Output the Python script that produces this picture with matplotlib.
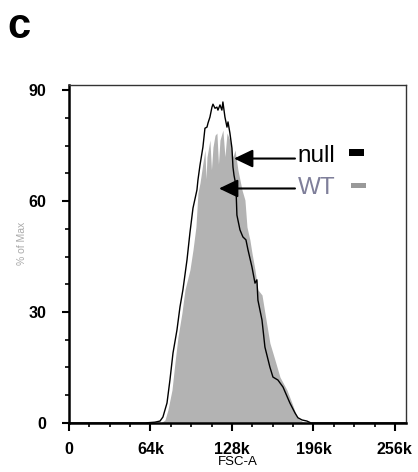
import numpy as np
import matplotlib
matplotlib.use("Agg")
import matplotlib.pyplot as plt
from matplotlib.patches import Rectangle
from matplotlib.ticker import MultipleLocator

plt.rcParams['font.family'] = ['Liberation Sans', 'DejaVu Sans']

###### DATA (FSC-A in k, % of max) ##########
null_x = [0, 60, 67.5, 71.5, 73.8, 77.0, 79.3, 81.7, 84.8, 87.2, 89.5, 92.7, 95.0, 97.4,
          100.5, 101.3, 102.9, 105.2, 106.8, 108.4, 109.2, 110.7, 112.3, 113.1, 114.7,
          116.2, 117.0, 118.6, 120.1, 120.9, 122.5, 124.1, 124.9, 126.4, 128.0, 128.8,
          129.6, 131.1, 131.9, 134.3, 136.6, 139.0, 140.6, 143.7, 146.1, 147.6, 148.4,
          151.6, 153.9, 157.8, 160.2, 164.1, 168.1, 173.5, 177.5, 179.8, 183.0, 186.9,
          190, 264]
null_y = [0, 0, 0.2, 0.5, 1.6, 5.4, 11.6, 18.9, 25.1, 31.4, 36.0, 44.1, 51.4, 58.1,
          63.0, 65.7, 69.7, 74.6, 79.7, 80.0, 81.1, 82.7, 85.4, 86.2, 85.1,
          85.4, 84.6, 86.0, 84.6, 86.8, 82.7, 80.0, 81.4, 78.4, 74.3, 69.2,
          67.0, 64.3, 56.2, 52.2, 50.3, 49.5, 46.8, 42.2, 37.8, 38.7, 33.2,
          27.8, 20.5, 15.1, 12.4, 11.6, 9.7, 5.4, 2.7, 1.4, 0.8, 0.5,
          0, 0]

wt_x = [0, 72, 75.4, 77.7, 80.9, 83.2, 85.6, 88.7, 91.1, 95.0, 97.4, 99.7, 101.3, 102.9,
        105.2, 106.8, 107.6, 108.4, 110.7, 111.9, 113.1, 114.7, 116.2, 117.4, 118.6,
        120.9, 122.5, 124.1, 126.4, 128.8, 130.4, 132.7, 135.9, 138.2, 139.8, 142.1,
        143.7, 146.1, 148.4, 151.6, 153.9, 157.8, 161.8, 165.7, 171.2, 175.1, 179.1,
        181.4, 183.8, 187, 264]
wt_y = [0, 0, 0.8, 3.5, 8.9, 16.2, 23.2, 29.7, 36.0, 41.4, 46.8, 53.0, 62.2, 64.9,
        70.3, 73.8, 66.0, 71.9, 76.5, 68.5, 74.6, 77.8, 78.4, 70.0, 76.5,
        79.2, 72.0, 78.4, 76.5, 71.9, 73.8, 68.4, 63.0, 60.3, 53.0, 49.5,
        46.0, 41.4, 36.0, 34.6, 29.7, 21.6, 17.0, 12.4, 8.9, 5.4, 1.6,
        0.8, 0.3, 0, 0]

x_ticks = [0, 64, 128, 192, 256]
x_labels = ['0', '64k', '128k', '196k', '256k']
y_ticks = [0, 30, 60, 90]
##############################################

fig = plt.figure(figsize=(4.18, 4.72), dpi=100)
ax = fig.add_axes([0.165, 0.104, 0.806, 0.716])

ax.fill_between(wt_x, wt_y, 0, color='#b3b3b3', lw=0, zorder=1)
ax.plot(null_x, null_y, color='black', lw=1.0, zorder=2)

ax.set_xlim(0, 264.6)
ax.set_ylim(0, 91.4)

ax.set_xticks(x_ticks)
ax.set_xticklabels(x_labels, fontsize=11.5, fontweight='bold')
ax.set_yticks(y_ticks)
ax.set_yticklabels([str(v) for v in y_ticks], fontsize=11.5, fontweight='bold')
ax.xaxis.set_minor_locator(MultipleLocator(16))
ax.yaxis.set_minor_locator(MultipleLocator(7.5))
ax.tick_params(axis='x', which='major', length=6, width=1.5, pad=8)
ax.tick_params(axis='x', which='minor', length=3, width=1.2)
ax.tick_params(axis='y', which='major', length=5, width=1.5, pad=11)
ax.tick_params(axis='y', which='minor', length=3, width=1.2)

for s in ['left', 'bottom']:
    ax.spines[s].set_linewidth(1.8)
for s in ['top', 'right']:
    ax.spines[s].set_linewidth(1.0)
    ax.spines[s].set_color('#333333')

ax.set_xlabel('FSC-A', fontsize=9.5, labelpad=-1)
ax.set_ylabel('% of Max', fontsize=7.5, color='#aaaaaa')
ax.yaxis.set_label_coords(-0.125, 0.53)

# legend-ish annotations
ax.annotate('', xy=(129.6, 71.5), xytext=(177.5, 71.5),
            arrowprops=dict(arrowstyle='-|>,head_length=1.15,head_width=0.55',
                            color='black', lw=1.5, shrinkA=0, shrinkB=0))
ax.annotate('', xy=(117.8, 63.4), xytext=(177.5, 63.4),
            arrowprops=dict(arrowstyle='-|>,head_length=1.15,head_width=0.55',
                            color='black', lw=1.5, shrinkA=0, shrinkB=0))
ax.text(179.5, 72.3, 'null', fontsize=17.5, va='center', ha='left', color='black')
ax.text(179.5, 63.6, 'WT', fontsize=17.5, va='center', ha='left', color='#7f7f9a')
ax.add_patch(Rectangle((219.9, 72.2), 11.8, 1.9, color='black', lw=0))
ax.add_patch(Rectangle((221.5, 63.5), 11.8, 1.4, color='#999999', lw=0))

fig.text(0.017, 0.92, 'c', fontsize=30, fontweight='bold', ha='left', va='baseline')

fig.savefig('out.png', dpi=100)
